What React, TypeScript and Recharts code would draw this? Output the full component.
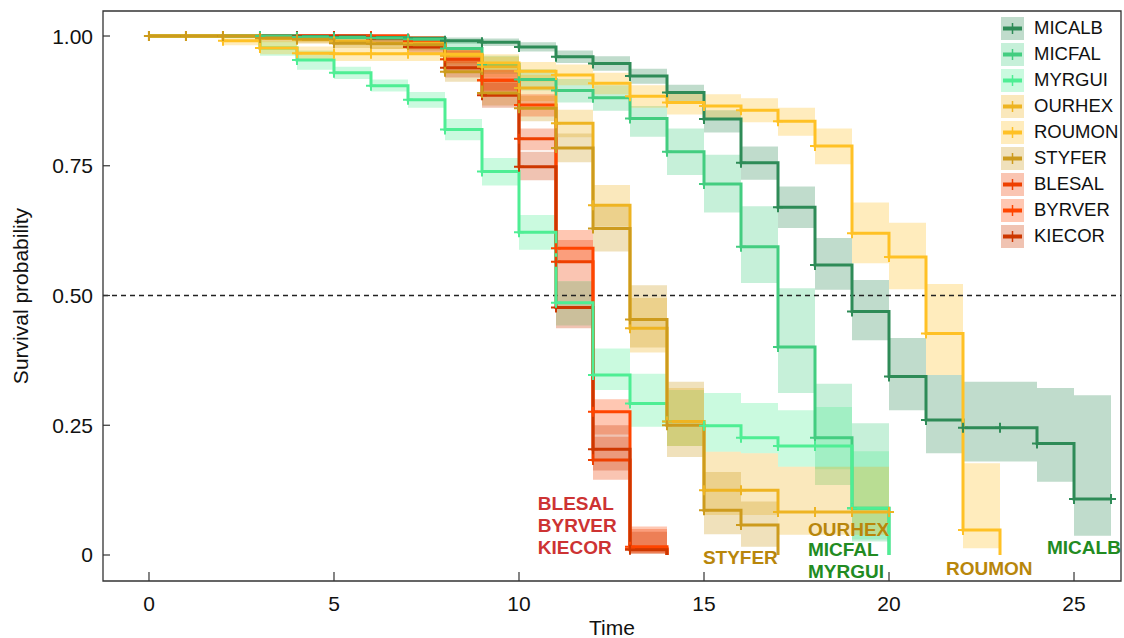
import React from 'react';
import {
  ComposedChart,
  Line,
  Area,
  XAxis,
  YAxis,
  ReferenceLine,
  ReferenceArea,
  ReferenceDot,
  Legend,
  Label,
} from 'recharts';

const FONT = '"Liberation Sans", Arial, Helvetica, sans-serif';

const TIMES = [0, 1, 2, 3, 4, 5, 6, 7, 8, 9, 10, 11, 12, 13, 14, 15, 16, 17, 18, 19, 20, 21, 22, 23, 24, 25, 26];
const X_TICKS = [0, 5, 10, 15, 20, 25];
const Y_TICKS = [0, 0.25, 0.5, 0.75, 1];
const Y_TICK_LABELS = ['0', '0.25', '0.50', '0.75', '1.00'];

const X_MIN = -1.243;
const X_MAX = 26.27;
const Y_MIN = -0.0501;
const Y_MAX = 1.0482;

// survival estimates read at each whole time step, with lower / upper confidence limits
const micalbSurv = [1, 1, 1, 1, 0.999, 0.998, 0.997, 0.995, 0.991, 0.988, 0.979, 0.96, 0.947, 0.923, 0.891, 0.84, 0.756, 0.67, 0.559, 0.469, 0.344, 0.26, 0.245, 0.245, 0.215, 0.108, 0.108];
const micalbLo = [1, 1, 1, 1, 0.997, 0.995, 0.993, 0.99, 0.985, 0.981, 0.97, 0.948, 0.933, 0.908, 0.873, 0.814, 0.723, 0.63, 0.511, 0.414, 0.279, 0.196, 0.18, 0.18, 0.141, 0.037, 0.037];
const micalbHi = [1, 1, 1, 1, 1, 1, 1, 1, 0.997, 0.995, 0.988, 0.972, 0.961, 0.937, 0.906, 0.857, 0.787, 0.71, 0.611, 0.53, 0.418, 0.347, 0.334, 0.334, 0.322, 0.308, 0.308];

const micfalSurv = [1, 1, 1, 1, 0.998, 0.997, 0.996, 0.994, 0.976, 0.945, 0.916, 0.895, 0.881, 0.841, 0.777, 0.715, 0.594, 0.401, 0.226, 0.09, 0];
const micfalLo = [1, 1, 1, 1, 0.994, 0.992, 0.99, 0.987, 0.963, 0.927, 0.895, 0.872, 0.856, 0.806, 0.732, 0.66, 0.524, 0.312, 0.135, 0.026, 0];
const micfalHi = [1, 1, 1, 1, 1, 1, 1, 1, 0.988, 0.962, 0.936, 0.917, 0.905, 0.865, 0.822, 0.771, 0.672, 0.514, 0.33, 0.254, 0];

const myrguiSurv = [1, 1, 1, 0.977, 0.954, 0.929, 0.904, 0.877, 0.82, 0.739, 0.622, 0.486, 0.347, 0.292, 0.257, 0.249, 0.226, 0.21, 0.21, 0.09, 0];
const myrguiLo = [1, 1, 1, 0.962, 0.935, 0.917, 0.893, 0.862, 0.799, 0.712, 0.588, 0.442, 0.318, 0.247, 0.21, 0.199, 0.196, 0.17, 0.165, 0.03, 0];
const myrguiHi = [1, 1, 1, 0.99, 0.972, 0.941, 0.916, 0.892, 0.84, 0.765, 0.655, 0.528, 0.398, 0.349, 0.318, 0.312, 0.293, 0.279, 0.285, 0.2, 0];

const ourhexSurv = [1, 1, 1, 0.995, 0.993, 0.99, 0.986, 0.986, 0.962, 0.941, 0.9, 0.832, 0.674, 0.437, 0.257, 0.125, 0.125, 0.083, 0.083, 0.083, 0.083];
const ourhexLo = [1, 1, 1, 0.988, 0.985, 0.98, 0.975, 0.975, 0.945, 0.92, 0.875, 0.805, 0.633, 0.39, 0.21, 0.077, 0.077, 0.039, 0.039, 0.039, 0.039];
const ourhexHi = [1, 1, 1, 1, 1, 1, 0.996, 0.996, 0.978, 0.96, 0.925, 0.858, 0.713, 0.495, 0.322, 0.199, 0.196, 0.17, 0.17, 0.17, 0.17];

const roumonSurv = [1, 1, 0.991, 0.977, 0.967, 0.966, 0.966, 0.966, 0.965, 0.948, 0.932, 0.925, 0.909, 0.884, 0.872, 0.865, 0.857, 0.836, 0.788, 0.62, 0.574, 0.427, 0.048, 0];
const roumonLo = [1, 1, 0.982, 0.965, 0.953, 0.952, 0.952, 0.952, 0.951, 0.93, 0.912, 0.905, 0.888, 0.862, 0.849, 0.842, 0.834, 0.808, 0.753, 0.562, 0.512, 0.347, 0.013, 0];
const roumonHi = [1, 1, 1, 0.99, 0.98, 0.98, 0.98, 0.98, 0.979, 0.965, 0.95, 0.945, 0.929, 0.905, 0.894, 0.888, 0.88, 0.862, 0.822, 0.679, 0.64, 0.522, 0.177, 0];

const styferSurv = [1, 1, 1, 0.996, 0.994, 0.986, 0.985, 0.983, 0.931, 0.89, 0.861, 0.784, 0.629, 0.454, 0.25, 0.086, 0.058, 0];
const styferLo = [1, 1, 1, 0.99, 0.987, 0.977, 0.975, 0.972, 0.912, 0.866, 0.836, 0.757, 0.585, 0.4, 0.189, 0.04, 0.016, 0];
const styferHi = [1, 1, 1, 1, 1, 0.995, 0.994, 0.993, 0.95, 0.913, 0.885, 0.812, 0.672, 0.52, 0.334, 0.16, 0.103, 0];

const blesalSurv = [1, 1, 1, 1, 1, 1, 1, 0.99, 0.955, 0.915, 0.802, 0.565, 0.183, 0.012, 0];
const blesalLo = [1, 1, 1, 1, 1, 1, 1, 0.978, 0.935, 0.893, 0.78, 0.527, 0.145, 0.003, 0];
const blesalHi = [1, 1, 1, 1, 1, 1, 1, 1, 0.972, 0.935, 0.822, 0.607, 0.228, 0.05, 0];

const byrverSurv = [1, 1, 1, 1, 1, 1, 1, 0.99, 0.963, 0.915, 0.867, 0.591, 0.276, 0.016, 0];
const byrverLo = [1, 1, 1, 1, 1, 1, 1, 0.978, 0.948, 0.895, 0.845, 0.563, 0.232, 0.004, 0];
const byrverHi = [1, 1, 1, 1, 1, 1, 1, 1, 0.978, 0.935, 0.888, 0.626, 0.3, 0.055, 0];

const kiecorSurv = [1, 1, 1, 1, 1, 1, 0.995, 0.979, 0.939, 0.886, 0.748, 0.477, 0.204, 0.01, 0];
const kiecorLo = [1, 1, 1, 1, 1, 1, 0.988, 0.967, 0.92, 0.862, 0.722, 0.437, 0.163, 0.002, 0];
const kiecorHi = [1, 1, 1, 1, 1, 1, 1, 0.991, 0.958, 0.91, 0.777, 0.527, 0.25, 0.045, 0];

// legend order
const SERIES = [
  { name: 'MICALB', color: '#2E8B57', surv: micalbSurv, lo: micalbLo, hi: micalbHi },
  { name: 'MICFAL', color: '#43CD80', surv: micfalSurv, lo: micfalLo, hi: micfalHi },
  { name: 'MYRGUI', color: '#4EEE94', surv: myrguiSurv, lo: myrguiLo, hi: myrguiHi },
  { name: 'OURHEX', color: '#EEB422', surv: ourhexSurv, lo: ourhexLo, hi: ourhexHi },
  { name: 'ROUMON', color: '#FFC125', surv: roumonSurv, lo: roumonLo, hi: roumonHi },
  { name: 'STYFER', color: '#CD9B1D', surv: styferSurv, lo: styferLo, hi: styferHi },
  { name: 'BLESAL', color: '#EE4000', surv: blesalSurv, lo: blesalLo, hi: blesalHi },
  { name: 'BYRVER', color: '#FF4500', surv: byrverSurv, lo: byrverLo, hi: byrverHi },
  { name: 'KIECOR', color: '#CD3700', surv: kiecorSurv, lo: kiecorLo, hi: kiecorHi },
];

// reds go underneath, golds on top
const DRAW_ORDER = ['BLESAL', 'BYRVER', 'KIECOR', 'MICALB', 'MICFAL', 'MYRGUI', 'OURHEX', 'ROUMON', 'STYFER'];

// group labels written inside the plot (left baseline point in data units)
const ANNOTATIONS = [
  { text: 'BLESAL', x: 10.51, y: 0.0867, color: '#CD3333' },
  { text: 'BYRVER', x: 10.51, y: 0.0443, color: '#CD3333' },
  { text: 'KIECOR', x: 10.51, y: 0.0019, color: '#CD3333' },
  { text: 'STYFER', x: 14.97, y: -0.0173, color: '#B8860B' },
  { text: 'OURHEX', x: 17.81, y: 0.0366, color: '#B8860B' },
  { text: 'MICFAL', x: 17.81, y: -0.0019, color: '#228B22' },
  { text: 'MYRGUI', x: 17.81, y: -0.0443, color: '#228B22' },
  { text: 'ROUMON', x: 21.54, y: -0.0385, color: '#B8860B' },
  { text: 'MICALB', x: 24.27, y: 0.0019, color: '#228B22' },
];

const rowsFor = (s: typeof SERIES[number]) =>
  s.surv.map((v, i) => ({ t: TIMES[i], s: v, band: [s.lo[i], s.hi[i]] }));

const crossDot = (color: string) => (props: any) => {
  const { cx, cy, index, payload } = props;
  if (cx == null || cy == null || payload.s === 0) return <g key={index} />;
  return (
    <path
      key={index}
      d={`M${cx - 5},${cy}H${cx + 5}M${cx},${cy - 5}V${cy + 5}`}
      stroke={color}
      strokeWidth={2}
      fill="none"
    />
  );
};

const XTick = (props: any) => {
  const { x, y, payload } = props;
  return (
    <g>
      <line x1={x} x2={x} y1={y} y2={y - 9} stroke="#333" strokeWidth={1.2} />
      <text x={x} y={y + 30} textAnchor="middle" fontSize={21} fontFamily={FONT} fill="#111">
        {payload.value}
      </text>
    </g>
  );
};

const YTick = (props: any) => {
  const { x, y, payload } = props;
  const idx = Y_TICKS.indexOf(payload.value);
  return (
    <g>
      <line x1={x} x2={x + 7} y1={y} y2={y} stroke="#333" strokeWidth={1.2} />
      <text x={x - 10} y={y + 7.5} textAnchor="end" fontSize={21} fontFamily={FONT} fill="#111">
        {Y_TICK_LABELS[idx]}
      </text>
    </g>
  );
};

const LegendBox = () => (
  <div style={{ fontFamily: FONT, fontSize: 18.5, color: '#111' }}>
    {SERIES.map((s) => (
      <div key={s.name} style={{ display: 'flex', alignItems: 'center', height: 26.05 }}>
        <svg width={23} height={23} style={{ display: 'block' }}>
          <rect x={0} y={0} width={23} height={23} fill={s.color} fillOpacity={0.3} />
          <line x1={2} x2={21} y1={11.5} y2={11.5} stroke={s.color} strokeWidth={4} />
          <line x1={11.5} x2={11.5} y1={6} y2={17} stroke={s.color} strokeWidth={1.5} />
        </svg>
        <span style={{ marginLeft: 10, lineHeight: 1, whiteSpace: 'nowrap' }}>{s.name}</span>
      </div>
    ))}
  </div>
);

export default function App() {
  const drawn = DRAW_ORDER.map((n) => SERIES.find((s) => s.name === n)!);
  return (
    <div style={{ position: 'absolute', left: 0, top: 0, width: 1124, height: 638, overflow: 'hidden', background: '#fff' }}>
      <ComposedChart width={1124} height={638} margin={{ top: 11, right: 3, bottom: 0, left: 0 }}>
        <XAxis
          type="number"
          dataKey="t"
          domain={[X_MIN, X_MAX]}
          ticks={X_TICKS}
          interval={0}
          allowDataOverflow
          height={57}
          axisLine={false}
          tickLine={false}
          tickSize={0}
          tickMargin={0}
          tick={<XTick />}
          label={
            <Label
              content={({ viewBox }: any) => (
                <text
                  x={viewBox.x + viewBox.width / 2}
                  y={viewBox.y + 54}
                  textAnchor="middle"
                  fontSize={21}
                  fontFamily={FONT}
                  fill="#111"
                >
                  Time
                </text>
              )}
            />
          }
        />
        <YAxis
          type="number"
          domain={[Y_MIN, Y_MAX]}
          ticks={Y_TICKS}
          interval={0}
          allowDataOverflow
          width={103}
          axisLine={false}
          tickLine={false}
          tickSize={0}
          tickMargin={0}
          tick={<YTick />}
          label={
            <Label
              content={({ viewBox }: any) => {
                const cx = viewBox.x + 20;
                const cy = viewBox.y + viewBox.height / 2;
                return (
                  <text
                    x={cx}
                    y={cy}
                    transform={`rotate(-90 ${cx} ${cy})`}
                    textAnchor="middle"
                    dominantBaseline="central"
                    fontSize={21}
                    fontFamily={FONT}
                    fill="#111"
                  >
                    Survival probability
                  </text>
                );
              }}
            />
          }
        />
        <ReferenceArea
          x1={X_MIN}
          x2={X_MAX}
          y1={Y_MIN}
          y2={Y_MAX}
          fill="#fff"
          fillOpacity={0}
          stroke="#333"
          strokeWidth={1.3}
        />
        <ReferenceLine y={0.5} stroke="#222" strokeWidth={1.3} strokeDasharray="5 4" />
        {SERIES.map((s) => (
          <Area
            key={'band-' + s.name}
            data={rowsFor(s)}
            dataKey="band"
            type="stepAfter"
            stroke="none"
            fill={s.color}
            fillOpacity={0.3}
            activeDot={false}
            dot={false}
            isAnimationActive={false}
            legendType="none"
          />
        ))}
        {drawn.map((s) => (
          <Line
            key={'line-' + s.name}
            data={rowsFor(s)}
            dataKey="s"
            name={s.name}
            type="stepAfter"
            stroke={s.color}
            strokeWidth={3}
            dot={crossDot(s.color)}
            activeDot={false}
            isAnimationActive={false}
          />
        ))}
        {ANNOTATIONS.map((a) => (
          <ReferenceDot
            key={a.text}
            x={a.x}
            y={a.y}
            r={0}
            shape={(p: any) => (
              <text
                x={p.cx}
                y={p.cy}
                fontSize={19}
                fontWeight="bold"
                fontFamily={FONT}
                fill={a.color}
              >
                {a.text}
              </text>
            )}
          />
        ))}
        <Legend
          layout="vertical"
          align="center"
          verticalAlign="middle"
          wrapperStyle={{ top: 15, left: 1001, width: 120 }}
          content={() => <LegendBox />}
        />
      </ComposedChart>
    </div>
  );
}
